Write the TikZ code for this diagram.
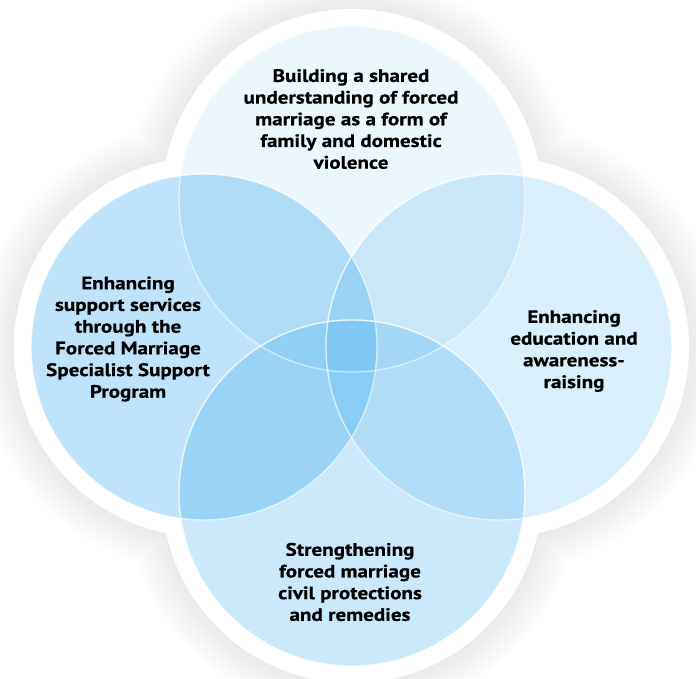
\documentclass[tikz,border=0pt]{standalone}
\usepackage{fontspec}
\setmainfont[FakeStretch=1.17, BoldFeatures={FakeBold=0.6}]{PT Sans}
\definecolor{basec}{RGB}{60,170,240}
\tikzset{
  ring/.style={fill=basec, draw=white, draw opacity=0.55, line width=1.3pt},
  lbl/.style={align=center, font=\bfseries\fontsize{18}{21.7}\selectfont, text=black, inner sep=0pt}
}
\begin{document}
\begin{tikzpicture}[x=1pt,y=-1pt]
\useasboundingbox (0,0) rectangle (696,679);
\fill[white] (0,0) rectangle (696,679);
% centres
\coordinate (T) at (352,199);
\coordinate (B) at (352,493);
\coordinate (L) at (204,347);
\coordinate (R) at (499,347);
% soft shadow
\foreach \k/\p in {34/1,30/2,26/3,22/4,18/5,14/6,10/7,6/7.5,3/8}{
  \fill[black!\p] (T) circle (190+\k) (B) circle (190+\k) (L) circle (190+\k) (R) circle (190+\k);
}
% white halo
\fill[white] (T) circle (190) (B) circle (190) (L) circle (190) (R) circle (190);
% circles
\path[ring, fill opacity=0.10] (T) circle (173);
\path[ring, fill opacity=0.33] (L) circle (173);
\path[ring, fill opacity=0.19] (R) circle (173);
\path[ring, fill opacity=0.26] (B) circle (173);
% redraw outlines on top
\foreach \c in {T,L,R,B}{
  \draw[white, opacity=0.55, line width=1.3pt] (\c) circle (173);
}
% labels
\node[lbl] (tt) at (351,119) {Building a shared\\understanding of forced\\marriage as a form of\\family and domestic\\violence};
\node[lbl] (lt) at (128,339) {Enhancing\\support services\\through the\\Forced Marriage\\Specialist Support\\Program};
\node[lbl] (rt) at (574,351) {Enhancing\\education and\\awareness-\\raising};
\node[lbl] (bt) at (350,582) {Strengthening\\forced marriage\\civil protections\\and remedies};
\end{tikzpicture}
\end{document}
